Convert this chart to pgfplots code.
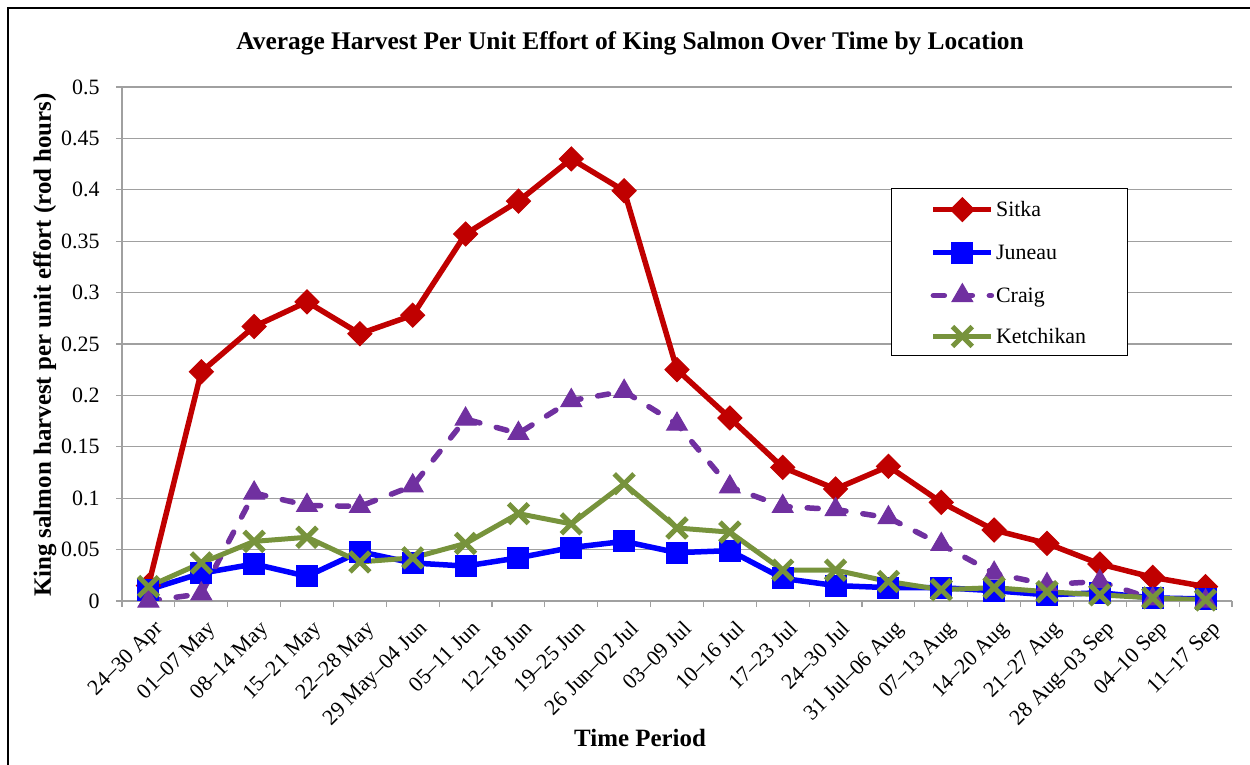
\documentclass[border=0pt]{standalone}
\usepackage{pgfplots}
\pgfplotsset{compat=1.18}
\usepackage{fontspec}
\setmainfont{Liberation Serif}
\definecolor{sitka}{HTML}{C00000}
\definecolor{juneau}{HTML}{0000FF}
\definecolor{craig}{HTML}{7030A0}
\definecolor{ketch}{HTML}{77933C}
\definecolor{gridc}{HTML}{A0A0A0}
\begin{document}
\begin{tikzpicture}
\useasboundingbox (0,0) rectangle (1250bp,765bp);
\draw[line width=1.5bp] (8bp,0bp) -- (8bp,757bp) -- (1250bp,757bp);
\begin{axis}[
  at={(122bp,164bp)}, anchor=south west,
  scale only axis, width=1110bp, height=514bp,
  xmin=-0.5, xmax=20.5, ymin=0, ymax=0.5,
  axis x line*=bottom, axis y line*=left,
  axis line style={gridc, line width=1.2bp},
  ytick={0,0.05,...,0.5},
  scaled y ticks=false,
  yticklabel style={/pgf/number format/fixed, /pgf/number format/precision=2, font=\fontsize{22}{26}\selectfont, xshift=-13bp},
  /pgf/number format/assume math mode=true,
  ymajorgrids, grid style={gridc, line width=1.2bp},
  tick align=outside, major tick length=6bp, minor tick length=6bp,
  tick style={gridc, line width=1.2bp},
  xtick={0,...,20},
  minor xtick={-0.5,0.5,...,20.5},
  every major x tick/.append style={draw=none},
  xticklabels={24--30 Apr,01--07 May,08--14 May,15--21 May,22--28 May,29 May--04 Jun,05--11 Jun,12--18 Jun,19--25 Jun,26 Jun--02 Jul,03--09 Jul,10--16 Jul,17--23 Jul,24--30 Jul,31 Jul--06 Aug,07--13 Aug,14--20 Aug,21--27 Aug,28 Aug--03 Sep,04--10 Sep,11--17 Sep},
  xticklabel style={rotate=45, anchor=north east, font=\fontsize{22}{26}\selectfont, xshift=-4bp, yshift=-11bp, inner sep=1bp},
  title={Average Harvest Per Unit Effort of King Salmon Over Time by Location},
  title style={at={(rel axis cs:0.4577,1.074)}, anchor=center, font=\bfseries\fontsize{25.5}{30}\selectfont},
  xlabel={Time Period},
  xlabel style={at={(rel axis cs:0.4667,-0.2665)}, anchor=center, font=\bfseries\fontsize{25}{30}\selectfont},
  ylabel={King salmon harvest per unit effort (rod hours)},
  ylabel style={at={(rel axis cs:-0.0694,0.498)}, anchor=center, rotate=0, font=\bfseries\fontsize{25}{30}\selectfont},
  legend style={at={(rel axis cs:0.6928,0.8035)}, anchor=north west, draw=black, line width=1.2bp,
    font=\fontsize{22}{26}\selectfont, inner xsep=39bp, inner ysep=9bp, row sep=20.5bp, legend cell align=left},
  legend image code/.code={\draw[mark repeat=2,mark phase=2,#1] plot coordinates {(0bp,0bp) (29bp,0bp) (58bp,0bp)};},
]
\addplot[sitka, line width=5.5bp, mark=square*, mark size=8.5bp, mark options={solid, rotate=45, fill=sitka, line width=1bp}] coordinates {
(0,0.015)(1,0.223)(2,0.267)(3,0.291)(4,0.260)(5,0.278)(6,0.357)(7,0.389)(8,0.430)(9,0.399)(10,0.225)(11,0.178)(12,0.130)(13,0.109)(14,0.131)(15,0.096)(16,0.069)(17,0.056)(18,0.036)(19,0.023)(20,0.014)};
\addlegendentry{Sitka}
\addplot[juneau, line width=5.5bp, mark=square*, mark size=10.5bp, mark options={solid, rounded corners=2.5bp, fill=juneau, line width=1bp}] coordinates {
(0,0.011)(1,0.027)(2,0.036)(3,0.024)(4,0.048)(5,0.037)(6,0.034)(7,0.042)(8,0.052)(9,0.058)(10,0.047)(11,0.049)(12,0.022)(13,0.015)(14,0.013)(15,0.013)(16,0.010)(17,0.006)(18,0.008)(19,0.003)(20,0.002)};
\addlegendentry{Juneau}
\addplot[craig, line width=5.5bp, dash pattern=on 11bp off 17bp, line cap=round, mark=triangle*, mark size=12bp, mark options={solid, fill=craig, line width=1bp, line cap=butt}] coordinates {
(0,0.000)(1,0.007)(2,0.105)(3,0.093)(4,0.092)(5,0.112)(6,0.177)(7,0.163)(8,0.195)(9,0.204)(10,0.172)(11,0.111)(12,0.092)(13,0.089)(14,0.081)(15,0.055)(16,0.027)(17,0.016)(18,0.019)(19,0.002)(20,0.000)};
\addlegendentry{Craig}
\addplot[ketch, line width=5bp, mark=x, mark size=14bp, mark options={solid, line width=5bp}] coordinates {
(0,0.014)(1,0.037)(2,0.058)(3,0.062)(4,0.038)(5,0.042)(6,0.056)(7,0.085)(8,0.075)(9,0.114)(10,0.071)(11,0.067)(12,0.030)(13,0.030)(14,0.019)(15,0.011)(16,0.013)(17,0.009)(18,0.006)(19,0.003)(20,0.001)};
\addlegendentry{Ketchikan}
\end{axis}
\end{tikzpicture}
\end{document}
